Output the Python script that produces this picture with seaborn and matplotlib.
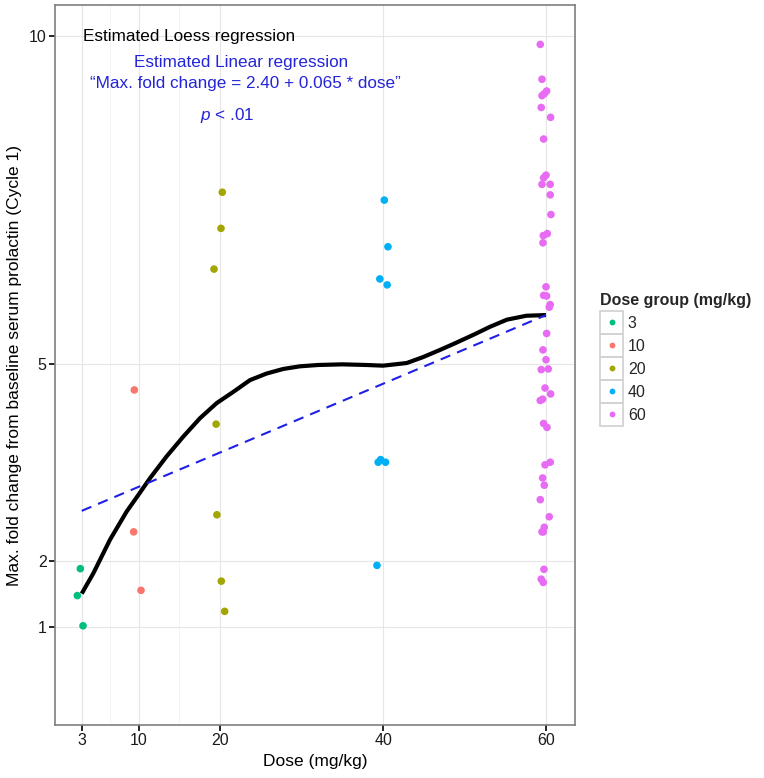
import numpy as np
import pandas as pd
import matplotlib
matplotlib.use("Agg")
import matplotlib.pyplot as plt
import seaborn as sns
from matplotlib.lines import Line2D
from matplotlib.patches import Rectangle

# ---------------- data ----------------
dose_levels = ["3", "10", "20", "40", "60"]
group_colors = ["#00BF7D", "#F8766D", "#A3A500", "#00B0F6", "#E76BF3"]

dose3_x = [2.83, 2.46, 3.16]
dose3_y = [1.89, 1.48, 1.02]

dose10_x = [9.46, 9.38, 10.28]
dose10_y = [4.61, 2.45, 1.56]

dose20_x = [20.26, 20.10, 19.24, 19.50, 19.60, 20.14, 20.55]
dose20_y = [7.62, 7.07, 6.45, 4.09, 2.71, 1.70, 1.24]

dose40_x = [40.15, 40.60, 39.60, 40.50, 39.40, 39.70, 40.30, 39.25]
dose40_y = [7.50, 6.79, 6.30, 6.21, 3.51, 3.55, 3.51, 1.94]

dose60_x = [59.30, 59.51, 60.08, 59.79, 59.51, 59.42, 60.57, 59.71, 60.00,
            59.71, 59.51, 60.52, 60.52, 60.61, 60.16, 59.67, 59.63, 60.00,
            59.71, 60.08, 60.52, 60.40, 60.08, 59.63, 60.00, 59.42, 60.28,
            59.88, 60.57, 59.59, 59.30, 59.71, 60.12, 60.52, 59.88, 59.59,
            59.79, 59.30, 60.40, 59.79, 59.67, 59.51, 59.75, 59.42, 59.67]
dose60_y = [9.87, 9.34, 9.16, 9.12, 9.09, 8.91, 8.76, 8.43, 7.88,
            7.84, 7.74, 7.74, 7.58, 7.28, 6.99, 6.96, 6.85, 6.18,
            6.05, 6.04, 5.91, 5.87, 5.47, 5.22, 5.07, 4.92, 4.93,
            4.64, 4.55, 4.47, 4.45, 4.10, 4.04, 3.51, 3.47, 3.27,
            3.16, 2.94, 2.68, 2.52, 2.45, 2.45, 1.88, 1.73, 1.68]

# loess curve
loess_x = [3.0, 4.43, 6.47, 8.52, 10.0, 11.4, 13.43, 15.47, 17.52, 19.57, 21.6,
           23.66, 25.7, 27.75, 29.8, 32.0, 35.0, 38.0, 40.0, 42.9, 44.9, 47.0,
           49.0, 51.1, 53.1, 55.2, 57.6, 60.0]
loess_y = [1.51, 1.82, 2.33, 2.76, 3.02, 3.27, 3.60, 3.90, 4.18, 4.41, 4.58,
           4.76, 4.86, 4.93, 4.97, 4.99, 5.00, 4.99, 4.98, 5.02, 5.11, 5.22,
           5.33, 5.45, 5.57, 5.68, 5.74, 5.75]

# linear regression line endpoints
linear_x = [3.0, 60.0]
linear_y = [2.77, 5.75]

x_ticks = [3, 10, 20, 40, 60]
y_ticks = [1, 2, 5, 10]

# ---------------- build the frame ----------------
groups = [(dose3_x, dose3_y), (dose10_x, dose10_y), (dose20_x, dose20_y),
          (dose40_x, dose40_y), (dose60_x, dose60_y)]
frames = []
for lvl, (xs, ys) in zip(dose_levels, groups):
    frames.append(pd.DataFrame({"dose": xs, "fold": ys, "group": lvl}))
df = pd.concat(frames, ignore_index=True)
palette = dict(zip(dose_levels, group_colors))

sns.set_theme(style="white")
plt.rcParams["font.family"] = ["Liberation Sans", "DejaVu Sans"]
plt.rcParams["mathtext.fontset"] = "custom"
plt.rcParams["mathtext.it"] = "Liberation Sans:italic"
plt.rcParams["mathtext.rm"] = "Liberation Sans"

W, H = 764, 778
fig = plt.figure(figsize=(W / 100, H / 100), dpi=100)
L, R, T, B = 55, 575.3, 5, 725
ax = fig.add_axes([L / W, 1 - B / H, (R - L) / W, (B - T) / H])

# grid
for xv in x_ticks:
    ax.axvline(xv, color="#E6E6E6", lw=0.8, zorder=0)
for xv in [6.5, 15]:
    ax.axvline(xv, color="#F3F3F3", lw=0.6, zorder=0)
for yv in y_ticks:
    ax.axhline(yv, color="#E6E6E6", lw=0.8, zorder=0)

sns.scatterplot(data=df, x="dose", y="fold", hue="group", hue_order=dose_levels,
                palette=palette, s=30, edgecolor="none", linewidth=0, ax=ax,
                legend=False, zorder=3)

sns.lineplot(x=loess_x, y=loess_y, color="black", lw=3.0, ax=ax, zorder=4,
             sort=False, estimator=None, solid_joinstyle="round",
             solid_capstyle="butt")
sns.lineplot(x=linear_x, y=linear_y, color="#1F1FE6", lw=1.5, ax=ax, zorder=4,
             estimator=None, linestyle=(0, (5, 3.5)))

ax.set_xlim(-0.28, 63.6)
ax.set_ylim(-0.49, 10.47)
ax.set_xticks(x_ticks)
ax.set_yticks(y_ticks)
ax.set_xticklabels([str(v) for v in x_ticks])
ax.set_yticklabels([str(v) for v in y_ticks])

for sp in ax.spines.values():
    sp.set_color("#7F7F7F")
    sp.set_linewidth(1.2)
ax.tick_params(axis="both", direction="out", length=4, width=1.2, color="black",
               labelsize=11.5, labelcolor="#1A1A1A", pad=2,
               bottom=True, left=True)

ax.set_xlabel("Dose (mg/kg)", fontsize=12.5, color="black")
ax.set_ylabel("Max. fold change from baseline serum prolactin (Cycle 1)",
              fontsize=12.5, color="black")
ax.xaxis.set_label_coords(0.5, -0.040)
ax.yaxis.set_label_coords(-0.063, 0.5)

# annotations
blue = "#2424D8"
ax.text(3.16, 9.99, "Estimated Loess regression", fontsize=12.3, color="black",
        ha="left", va="center")
ax.text(22.52, 9.60, "Estimated Linear regression", fontsize=12.3, color=blue,
        ha="center", va="center")
ax.text(23.1, 9.28, "\u201cMax. fold change = 2.40 + 0.065 * dose\u201d", fontsize=12.3,
        color=blue, ha="center", va="center")
ax.text(20.84, 8.79, r"$\mathit{p}$ < .01", fontsize=12.3, color=blue,
        ha="center", va="center")

# legend
handles = [Line2D([0], [0], marker="o", linestyle="none", markersize=4.2,
                  markerfacecolor=c, markeredgecolor="none") for c in group_colors]
leg = ax.legend(handles, dose_levels, title="Dose group (mg/kg)",
                loc="upper left", bbox_to_anchor=(600 / W, 1 - 293 / H),
                bbox_transform=fig.transFigure, frameon=False, fontsize=11.5,
                title_fontproperties={"weight": "bold", "size": 11.5},
                labelspacing=0.5, handlelength=1.45, handletextpad=0.3,
                borderpad=0, borderaxespad=0, alignment="left")

fig.canvas.draw()
renderer = fig.canvas.get_renderer()
for h in leg.legend_handles:
    bb = h.get_window_extent(renderer)
    cx = (bb.x0 + bb.x1) / 2
    cy = (bb.y0 + bb.y1) / 2
    s = 23
    fig.patches.append(Rectangle(((cx - s / 2) / W, (cy - s / 2) / H), s / W, s / H,
                                 transform=fig.transFigure, facecolor="none",
                                 edgecolor="#D3D3D3", lw=1.3, zorder=10))

fig.savefig("out.png", dpi=100)
